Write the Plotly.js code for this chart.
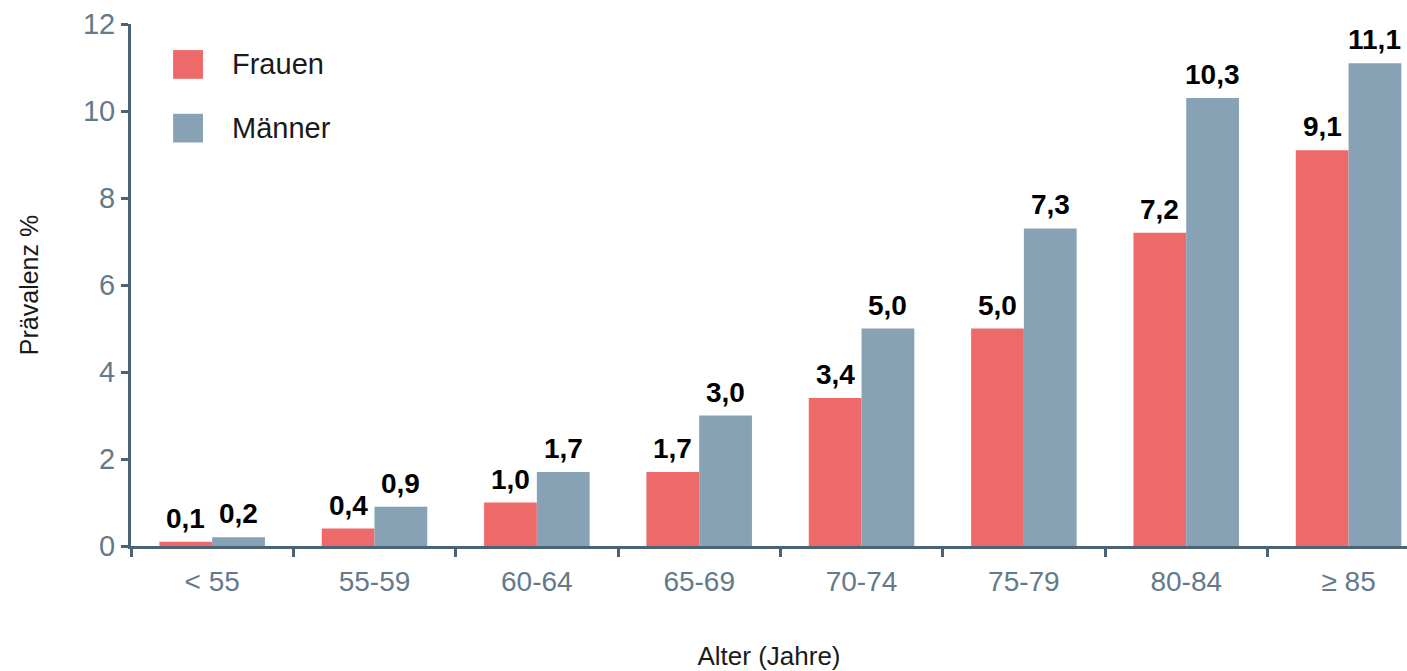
<!DOCTYPE html>
<html><head><meta charset="utf-8">
<script src="https://cdn.plot.ly/plotly-3.0.1.min.js"></script>
<style>html,body{margin:0;padding:0;background:#fff}#c{width:1407px;height:671px}</style>
</head><body><div id="c"></div>
<script>
const categories = ['< 55','55-59','60-64','65-69','70-74','75-79','80-84','≥ 85'];
const frauen = [0.1,0.4,1.0,1.7,3.4,5.0,7.2,9.1];
const maenner = [0.2,0.9,1.7,3.0,5.0,7.3,10.3,11.1];
const seriesNames = ['Frauen','Männer'];
const seriesColors = ['#ee6a6a','#87a2b4'];
const yTicks = [0,2,4,6,8,10,12];

const W = 1407, H = 671;
const M = {l:131, r:0, t:24, b:125};
const xRange = [-0.5, 7.36];
const bargap = 0.35;

const fmt = v => v.toFixed(1).replace('.', ',');
const FF = 'Liberation Sans, Arial, sans-serif';

const traces = [frauen, maenner].map((vals,i) => ({
  type:'bar', x:categories, y:vals, name:seriesNames[i],
  marker:{color:seriesColors[i]}, showlegend:false, hoverinfo:'skip'
}));

// value labels above bars, offset to each bar's centre
const catPx = (W - M.l - M.r) / (xRange[1] - xRange[0]);
const barPx = catPx * (1 - bargap) / 2;
const annotations = [];
[frauen, maenner].forEach((vals,i)=>{
  const shift = (i === 0 ? -1 : 1) * barPx / 2;
  vals.forEach((v,j)=>{
    annotations.push({x:categories[j], y:v, xref:'x', yref:'y', xshift:shift, yshift:6,
      xanchor:'center', yanchor:'bottom', showarrow:false, text:'<b>'+fmt(v)+'</b>',
      font:{family:FF, size:28, color:'#000'}});
  });
});

const axisCol = '#4b6377';
const tickCol = '#647a8a';
const shapes = [];
seriesNames.forEach((n,i)=>{
  const top = i===0 ? 0.950 : 0.828;
  shapes.push({type:'rect', xref:'paper', yref:'paper', x0:0.033, x1:0.0564, y0:top-0.055, y1:top, fillcolor:seriesColors[i], line:{width:0}});
  annotations.push({xref:'paper', yref:'paper', x:0.0776, y:top-0.0275, xanchor:'left', yanchor:'middle', text:n, showarrow:false,
    font:{family:FF, size:29, color:'#1a1a1a'}});
});

const layout = {
  width:W, height:H, margin:M,
  paper_bgcolor:'#fff', plot_bgcolor:'#fff',
  barmode:'group', bargap:bargap, bargroupgap:0,
  showlegend:false,
  xaxis:{
    type:'category', range:xRange, showgrid:false, zeroline:false,
    showline:true, linecolor:axisCol, linewidth:3,
    ticks:'outside', tickson:'boundaries', ticklen:8, tickwidth:3, tickcolor:axisCol,
    tickfont:{family:FF, size:28, color:tickCol},
    ticklabelstandoff:8,
    title:{text:'Alter (Jahre)', standoff:52, font:{family:FF, size:26, color:'#1a1a1a'}}
  },
  yaxis:{
    range:[0,12], tickvals:yTicks, ticktext:yTicks.map(String), showgrid:false, zeroline:false,
    showline:true, linecolor:axisCol, linewidth:3,
    ticks:'outside', ticklen:7, tickwidth:3, tickcolor:axisCol,
    tickfont:{family:FF, size:29, color:tickCol},
    title:{text:'Prävalenz %', standoff:38, font:{family:FF, size:25, color:'#1a1a1a'}}
  },
  shapes:shapes, annotations:annotations
};
Plotly.newPlot('c', traces, layout, {staticPlot:true, displayModeBar:false});
</script></body></html>
